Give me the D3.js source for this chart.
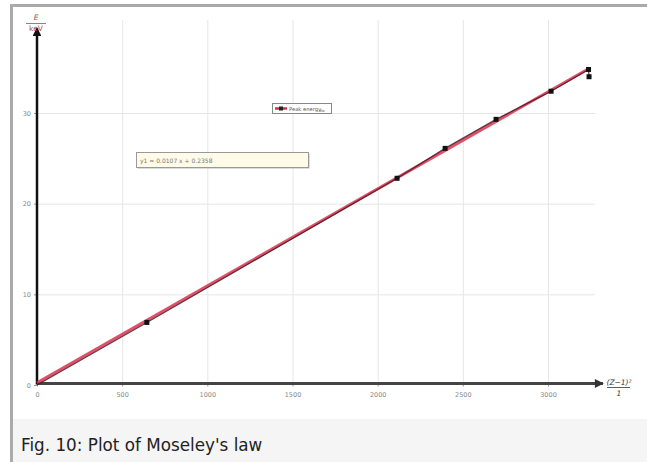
<!DOCTYPE html>
<html>
<head>
<meta charset="utf-8">
<script src="https://cdn.jsdelivr.net/npm/d3@7"></script>
<style>
  html, body { margin: 0; padding: 0; background: #fff; }
  svg { display: block; }
</style>
</head>
<body>
<svg id="fig" width="647" height="462"></svg>
<script>
// Moseley's law: Kα peak energy against (Z-1)^2
const zTerm = [0, 645, 2114, 2396, 2695, 3018, 3238, 3241];
const peakEnergy = [0, 6.9, 22.8, 26.1, 29.3, 32.4, 34.8, 34.0];
const fitSlope = 0.0107;
const fitIntercept = 0.2358;
const xTicks = [0, 500, 1000, 1500, 2000, 2500, 3000];
const yTicks = [0, 10, 20, 30];
const caption = "Fig. 10: Plot of Moseley's law";

const svg = d3.select("#fig");

// figure frame and caption strip
svg.append("rect").attr("x", 10).attr("y", 4).attr("width", 637).attr("height", 458).attr("fill", "#aaaaaa");
svg.append("rect").attr("x", 13).attr("y", 7).attr("width", 634).attr("height", 455).attr("fill", "#ffffff");
svg.append("rect").attr("x", 13).attr("y", 419).attr("width", 634).attr("height", 43).attr("fill", "#f5f5f5");
svg.append("text").attr("x", 21).attr("y", 451)
  .attr("font-family", "DejaVu Sans").attr("font-size", 16.8).attr("fill", "#222")
  .text(caption);

const x = d3.scaleLinear().domain([0, 3000]).range([37, 548]);
const y = d3.scaleLinear().domain([0, 30]).range([385, 113]);
const yBase = 383.5;

// grid
const grid = svg.append("g").attr("stroke", "#e6e6e6").attr("stroke-width", 1);
grid.selectAll("line.v").data(xTicks.slice(1)).join("line")
  .attr("x1", d => x(d) + 0.5).attr("x2", d => x(d) + 0.5)
  .attr("y1", 20).attr("y2", yBase);
grid.selectAll("line.h").data(yTicks.slice(1)).join("line")
  .attr("y1", d => y(d) + 0.5).attr("y2", d => y(d) + 0.5)
  .attr("x1", x(0)).attr("x2", 595);

// axes
const xAxis = d3.axisBottom(x).tickValues(xTicks).tickSize(3).tickFormat(d3.format("d"));
const gx = svg.append("g").attr("transform", `translate(0,${yBase})`).call(xAxis);
gx.select(".domain").remove();
gx.selectAll(".tick line").attr("stroke", "#999");
gx.selectAll(".tick text").attr("font-family", "DejaVu Sans").attr("font-size", 6.5).attr("fill", "#888").attr("dy", "1.1em");

const yAxis = d3.axisLeft(y).tickValues(yTicks).tickSize(3);
const gy = svg.append("g").attr("transform", `translate(${x(0)},0)`).call(yAxis);
gy.select(".domain").remove();
gy.selectAll(".tick line").attr("stroke", "#999");
gy.selectAll(".tick text").attr("font-family", "DejaVu Sans").attr("font-size", 6.5).attr("fill", "#888");

const defs = svg.append("defs");
defs.append("marker").attr("id", "arrowX").attr("viewBox", "0 0 10 10").attr("refX", 9).attr("refY", 5)
  .attr("markerWidth", 3.5).attr("markerHeight", 3).attr("orient", "auto")
  .append("path").attr("d", "M0,0L10,5L0,10z").attr("fill", "#333");
defs.append("marker").attr("id", "arrowY").attr("viewBox", "0 0 10 10").attr("refX", 9).attr("refY", 5)
  .attr("markerWidth", 4).attr("markerHeight", 3.5).attr("orient", "auto")
  .append("path").attr("d", "M0,0L10,5L0,10z").attr("fill", "#111");

svg.append("line").attr("x1", x(0)).attr("x2", 603).attr("y1", yBase).attr("y2", yBase)
  .attr("stroke", "#444").attr("stroke-width", 3).attr("marker-end", "url(#arrowX)");
svg.append("line").attr("x1", x(0)).attr("x2", x(0)).attr("y1", yBase + 1).attr("y2", 28)
  .attr("stroke", "#111").attr("stroke-width", 2.5).attr("marker-end", "url(#arrowY)");

// axis unit labels
const lbl = svg.append("g").attr("font-family", "DejaVu Sans").attr("fill", "#a0504a").attr("text-anchor", "middle");
lbl.append("text").attr("x", 36).attr("y", 20).attr("font-size", 7.5).attr("font-style", "italic").text("E");
lbl.append("line").attr("x1", 26).attr("x2", 46).attr("y1", 23.5).attr("y2", 23.5).attr("stroke", "#a0504a").attr("stroke-width", 0.8);
lbl.append("text").attr("x", 36).attr("y", 31).attr("font-size", 7.5).text("keV");

const xl = svg.append("g").attr("font-family", "DejaVu Sans").attr("fill", "#333").attr("text-anchor", "middle").attr("font-style", "italic");
xl.append("text").attr("x", 619).attr("y", 385).attr("font-size", 7.5).text("(Z−1)²");
xl.append("line").attr("x1", 607).attr("x2", 630).attr("y1", 387.5).attr("y2", 387.5).attr("stroke", "#333").attr("stroke-width", 0.8);
xl.append("text").attr("x", 619).attr("y", 396).attr("font-size", 7.5).text("1");

// linear fit
const fitDomain = [0, d3.max(zTerm)];
svg.append("line")
  .attr("x1", x(fitDomain[0])).attr("y1", y(fitSlope * fitDomain[0] + fitIntercept))
  .attr("x2", x(fitDomain[1])).attr("y2", y(fitSlope * fitDomain[1] + fitIntercept))
  .attr("stroke", "#d8334f").attr("stroke-width", 3).attr("stroke-opacity", 0.85);

// measured peaks
const pts = zTerm.map((v, i) => [v, peakEnergy[i]]);
const line = d3.line().x(d => x(d[0])).y(d => y(d[1]));
svg.append("path").datum(pts).attr("d", line).attr("fill", "none")
  .attr("stroke", "#4a1822").attr("stroke-width", 1.3).attr("stroke-opacity", 0.85);
svg.selectAll("rect.pt").data(pts.slice(1)).join("rect")
  .attr("x", d => x(d[0]) - 2.5).attr("y", d => y(d[1]) - 2.5)
  .attr("width", 5).attr("height", 5).attr("fill", "#111");

// legend
const lg = svg.append("g");
lg.append("rect").attr("x", 272.5).attr("y", 103.5).attr("width", 59).attr("height", 10)
  .attr("fill", "#fff").attr("stroke", "#888");
lg.append("line").attr("x1", 275).attr("x2", 287).attr("y1", 108.5).attr("y2", 108.5)
  .attr("stroke", "#d0304c").attr("stroke-width", 2.5);
lg.append("rect").attr("x", 279).attr("y", 106.5).attr("width", 4).attr("height", 4).attr("fill", "#222");
lg.append("text").attr("x", 289).attr("y", 110.5).attr("font-family", "DejaVu Sans").attr("font-size", 5.2)
  .attr("fill", "#555").text("Peak energy");
lg.append("text").attr("x", 320).attr("y", 111.5).attr("font-family", "DejaVu Sans").attr("font-size", 3.5)
  .attr("fill", "#555").text("Kα");

// fit equation box
const eq = svg.append("g");
eq.append("rect").attr("x", 137.5).attr("y", 153.5).attr("width", 172).attr("height", 15)
  .attr("fill", "#bbb");
eq.append("rect").attr("x", 136.5).attr("y", 152.5).attr("width", 172).attr("height", 15)
  .attr("fill", "#fffbe8").attr("stroke", "#999");
eq.append("text").attr("x", 140).attr("y", 162.5).attr("font-family", "DejaVu Sans").attr("font-size", 6)
  .attr("fill", "#777").text(`y1 = ${fitSlope} x + ${fitIntercept}`);
</script>
</body>
</html>
